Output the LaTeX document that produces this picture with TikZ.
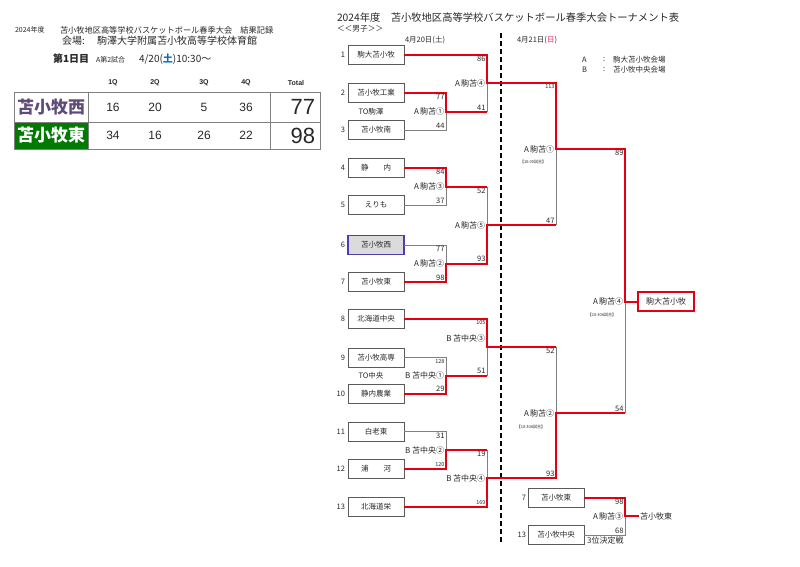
\documentclass[tikz,border=0pt]{standalone}
\usepackage{fontspec}
\setmainfont{Noto Sans CJK JP}
\newfontfamily\lat{Liberation Sans}
\usetikzlibrary{calc}
\definecolor{myred}{RGB}{228,0,18}
\definecolor{lgray}{RGB}{128,128,128}
\definecolor{boxgray}{RGB}{90,90,90}
\definecolor{tblue}{RGB}{80,60,175}
\definecolor{tgreen}{RGB}{0,122,0}
\definecolor{tpurple}{RGB}{95,75,120}
\definecolor{sunblue}{RGB}{0,112,192}
\definecolor{sunred}{RGB}{220,40,90}
\definecolor{txt}{RGB}{40,40,40}
\newcommand\fsz[1]{\fontsize{#1}{#1}\selectfont}
\begin{document}
\begin{tikzpicture}[x=1pt,y=-1pt,
 every node/.style={inner sep=0pt, outer sep=0pt, text=txt},
 teambox/.style={draw=boxgray, line width=0.8pt, minimum width=56pt, minimum height=19pt, font=\fsz{7.5}},
 num/.style={anchor=east, font=\fsz{7.5}},
 win/.style={draw=myred, line width=2pt},
 lose/.style={draw=lgray, line width=0.8pt},
 scoretop/.style={anchor=north east, inner sep=1.5pt, font=\fsz{7.5}},
 scorebot/.style={anchor=south east, inner sep=1.5pt, font=\fsz{7.5}},
 smallsc/.style={font=\fsz{5.5}},
 lbl/.style={anchor=east, inner sep=2pt, font=\fsz{8}},
 note/.style={font=\fsz{4}},
 plain/.style={anchor=west},
 tbl/.style={draw=lgray, line width=1pt},
]
\useasboundingbox (0,0) rectangle (800,566);
\fill[white] (0,0) rectangle (800,566);

% ---------- left header ----------
\node[plain, font=\fsz{7}] (h1) at (15,30) {2024年度};
\node[plain, font=\fsz{8.2}] (h2) at (60,30) {苫小牧地区高等学校バスケットボール春季大会　結果記録};
\node[plain, font=\fsz{10}] (h3) at (62,41) {会場:};
\node[plain, font=\fsz{10}] (h4) at (97,41) {駒澤大学附属苫小牧高等学校体育館};
\node[plain, font=\fsz{10}\bfseries] (h5) at (53,59) {第1日目};
\node[plain, font=\fsz{7}] (h6) at (96,60) {A第2試合};
\node[plain, font=\fsz{10}] (h7) at (139,59) {4/20(\textcolor{sunblue}{\bfseries 土})10:30〜};

% ---------- score table ----------
\fill[tgreen] (14,122) rectangle (88,149);
\draw[tbl] (14,92.5) rectangle (320.5,149);
\draw[tbl] (14,122) -- (320.5,122);
\draw[tbl] (88,92.5) -- (88,149);
\draw[tbl] (270,92.5) -- (270,149);
\node[font=\lat\fsz{7}\bfseries] (q1) at (113,83) {1Q};
\node[font=\lat\fsz{7}\bfseries] (q2) at (155,83) {2Q};
\node[font=\lat\fsz{7}\bfseries] (q3) at (204,83) {3Q};
\node[font=\lat\fsz{7}\bfseries] (q4) at (246,83) {4Q};
\node[font=\lat\fsz{7}\bfseries] (qt) at (296,83) {Total};
\node[font=\fsz{17}\bfseries, text=tpurple] (n1) at (51,107) {苫小牧西};
\node[font=\fsz{17}\bfseries, text=white] (n2) at (51,135.5) {苫小牧東};
\node[font=\lat\fsz{12}] (r11) at (113,107) {16};
\node[font=\lat\fsz{12}] (r12) at (155,107) {20};
\node[font=\lat\fsz{12}] (r13) at (204,107) {5};
\node[font=\lat\fsz{12}] (r14) at (246,107) {36};
\node[anchor=east, font=\lat\fsz{22}] (r15) at (315,107) {77};
\node[font=\lat\fsz{12}] (r21) at (113,135.5) {34};
\node[font=\lat\fsz{12}] (r22) at (155,135.5) {16};
\node[font=\lat\fsz{12}] (r23) at (204,135.5) {26};
\node[font=\lat\fsz{12}] (r24) at (246,135.5) {22};
\node[anchor=east, font=\lat\fsz{22}] (r25) at (315,135.5) {98};

% ---------- right header ----------
\node[plain, font=\fsz{10.3}] (g1) at (337,18) {2024年度　苫小牧地区高等学校バスケットボール春季大会トーナメント表};
\node[plain, font=\fsz{7.7}] (g2) at (337,29) {＜＜男子＞＞};
\node[plain, font=\fsz{7.5}] (g3) at (405,40) {4月20日(土)};
\node[plain, font=\fsz{7.5}] (g4) at (517,40) {4月21日(\textcolor{sunred}{日})};
\node[plain, font=\fsz{7.5}] (la) at (582,60) {A};
\node[plain, font=\fsz{7.5}] (lac) at (603,60) {:};
\node[plain, font=\fsz{7.5}] (lat) at (613,60) {駒大苫小牧会場};
\node[plain, font=\fsz{7.5}] (lb) at (582,70) {B};
\node[plain, font=\fsz{7.5}] (lbc) at (603,70) {:};
\node[plain, font=\fsz{7.5}] (lbt) at (613,70) {苫小牧中央会場};

% ---------- dashed day divider ----------
\coordinate (dtop) at (501,33);
\coordinate (dbot) at (501,544);
\draw[black, line width=1.3pt, dash pattern=on 5pt off 3pt] (dtop) -- (dbot);

% ---------- team boxes ----------
\node[teambox] (t1) at (376,55) {駒大苫小牧};
\node[teambox] (t2) at (376,93) {苫小牧工業};
\node[teambox] (t3) at (376,130) {苫小牧南};
\node[teambox] (t4) at (376,168) {静　　内};
\node[teambox] (t5) at (376,205) {えりも};
\node[teambox, fill=black!14, draw=tblue, line width=1.4pt] (t6) at (376,245) {苫小牧西};
\node[teambox] (t7) at (376,282) {苫小牧東};
\node[teambox] (t8) at (376,319) {北海道中央};
\node[teambox] (t9) at (376,357.5) {苫小牧高専};
\node[teambox] (t10) at (376,393.5) {静内農業};
\node[teambox] (t11) at (376,431.5) {白老東};
\node[teambox] (t12) at (376,468.5) {浦　　河};
\node[teambox] (t13) at (376,506.5) {北海道栄};
\node[teambox] (s7) at (556,497.5) {苫小牧東};
\node[teambox] (s13) at (556,535) {苫小牧中央};
\node[teambox, draw=myred, line width=1.4pt, font=\fsz{8}] (champ) at (666,301.5) {駒大苫小牧};
\node[plain, inner sep=1pt, font=\fsz{8}] (thirdtxt) at (639,516) {苫小牧東};

\node[num] (k1) at (345,55) {1};
\node[num] (k2) at (345,93) {2};
\node[num] (k3) at (345,130) {3};
\node[num] (k4) at (345,168) {4};
\node[num] (k5) at (345,205) {5};
\node[num] (k6) at (345,245) {6};
\node[num] (k7) at (345,282) {7};
\node[num] (k8) at (345,319) {8};
\node[num] (k9) at (345,357.5) {9};
\node[num] (k10) at (345,393.5) {10};
\node[num] (k11) at (345,431.5) {11};
\node[num] (k12) at (345,468.5) {12};
\node[num] (k13) at (345,506.5) {13};
\node[num] (k14) at (526,497.5) {7};
\node[num] (k15) at (526,535) {13};
\node[font=\fsz{7.5}] (to1) at (371,111.5) {TO駒澤};
\node[font=\fsz{7.5}] (to2) at (371,375.5) {TO中央};

% ---------- match points ----------
\coordinate (a1) at (446,111.5);
\coordinate (a4) at (487,83);
\coordinate (a3) at (446,186.5);
\coordinate (a2) at (446,263.5);
\coordinate (a5) at (487,225);
\coordinate (b1) at (446,375.5);
\coordinate (b3) at (487,347);
\coordinate (b2) at (446,450);
\coordinate (b4) at (487,478);
\coordinate (d1) at (556,149);
\coordinate (d2) at (556,413);
\coordinate (fin) at (625,301.5);
\coordinate (thr) at (625,516);

% ---------- losing lines ----------
\draw[lose] (t3.east) -| (a1);
\draw[lose] (a1 -| a4) -- (a4);
\draw[lose] (t5.east) -| (a3);
\draw[lose] (t6.east) -| (a2);
\draw[lose] (a3 -| a5) -- (a5);
\draw[lose] (t9.east) -| (b1);
\draw[lose] (b1 -| b3) -- (b3);
\draw[lose] (t11.east) -| (b2);
\draw[lose] (b2 -| b4) -- (b4);
\draw[lose] (a5 -| d1) -- (d1);
\draw[lose] (b3 -| d2) -- (d2);
\draw[lose] (d2 -| fin) -- (fin);
\draw[lose] (s13.east) -| (thr);

% ---------- winning lines ----------
\draw[win] (t2.east) -| (a1) -- (a1 -| a4);
\draw[win] (t1.east) -| (a4) -- (a4 -| d1) -- (d1) -- (d1 -| fin) -- (fin) -- (champ.west);
\draw[win] (t4.east) -| (a3) -- (a3 -| a5);
\draw[win] (t7.east) -| (a2) -- (a2 -| a5) -- (a5) -- (a5 -| d1);
\draw[win] (t10.east) -| (b1) -- (b1 -| b3);
\draw[win] (t8.east) -| (b3) -- (b3 -| d2);
\draw[win] (t12.east) -| (b2) -- (b2 -| b4);
\draw[win] (t13.east) -| (b4) -- (b4 -| d2) -- (d2) -- (d2 -| fin);
\draw[win] (s7.east) -| (thr) -- (thirdtxt.west);

% ---------- scores ----------
\node[scoretop] (c1) at (t2.east -| a1) {77};
\node[scorebot] (c2) at (t3.east -| a1) {44};
\node[scoretop] (c3) at (t1.east -| a4) {86};
\node[scorebot] (c4) at (a1 -| a4) {41};
\node[scoretop] (c5) at (t4.east -| a3) {84};
\node[scorebot] (c6) at (t5.east -| a3) {37};
\node[scoretop] (c7) at (t6.east -| a2) {77};
\node[scorebot] (c8) at (t7.east -| a2) {98};
\node[scoretop] (c9) at (a3 -| a5) {52};
\node[scorebot] (c10) at (a2 -| a5) {93};
\node[scoretop, smallsc] (c11) at (t9.east -| b1) {128};
\node[scorebot] (c12) at (t10.east -| b1) {29};
\node[scoretop, smallsc] (c13) at (t8.east -| b3) {105};
\node[scorebot] (c14) at (b1 -| b3) {51};
\node[scoretop] (c15) at (t11.east -| b2) {31};
\node[scorebot, smallsc] (c16) at (t12.east -| b2) {120};
\node[scoretop] (c17) at (b2 -| b4) {19};
\node[scorebot, smallsc] (c18) at (t13.east -| b4) {169};
\node[scoretop, smallsc] (c19) at (a4 -| d1) {113};
\node[scorebot] (c20) at (a5 -| d1) {47};
\node[scoretop] (c21) at (b3 -| d2) {52};
\node[scorebot] (c22) at (b4 -| d2) {93};
\node[scoretop] (c23) at (d1 -| fin) {89};
\node[scorebot] (c24) at (d2 -| fin) {54};
\node[scoretop] (c25) at (s7.east -| thr) {98};
\node[scorebot] (c26) at (s13.east -| thr) {68};
\node[scoretop, font=\fsz{8}] (c27) at (s13.east -| thr) {3位決定戦};

% ---------- match labels ----------
\node[lbl] (m1) at (a1) {A\hspace{1pt}駒苫①};
\node[lbl] (m2) at (a4) {A\hspace{1pt}駒苫④};
\node[lbl] (m3) at (a3) {A\hspace{1pt}駒苫③};
\node[lbl] (m4) at (a2) {A\hspace{1pt}駒苫②};
\node[lbl] (m5) at (a5) {A\hspace{1pt}駒苫⑤};
\node[lbl] (m6) at (b1) {B\hspace{1.5pt}苫中央①};
\node[lbl] (m7) at ($(b3)+(0,-9)$) {B\hspace{1.5pt}苫中央③};
\node[lbl] (m8) at (b2) {B\hspace{1.5pt}苫中央②};
\node[lbl] (m9) at (b4) {B\hspace{1.5pt}苫中央④};
\node[lbl] (m10) at (d1) {A\hspace{1pt}駒苫①};
\node[lbl] (m11) at (d2) {A\hspace{1pt}駒苫②};
\node[lbl] (m12) at (fin) {A\hspace{1pt}駒苫④};
\node[lbl] (m13) at (thr) {A\hspace{1pt}駒苫③};
\node[note] (w1) at (533,162) {【10:00試合】};
\node[note] (w2) at (531,427) {【10:30A試合】};
\node[note] (w3) at (602,315) {【10:30A試合】};
\end{tikzpicture}
\end{document}
